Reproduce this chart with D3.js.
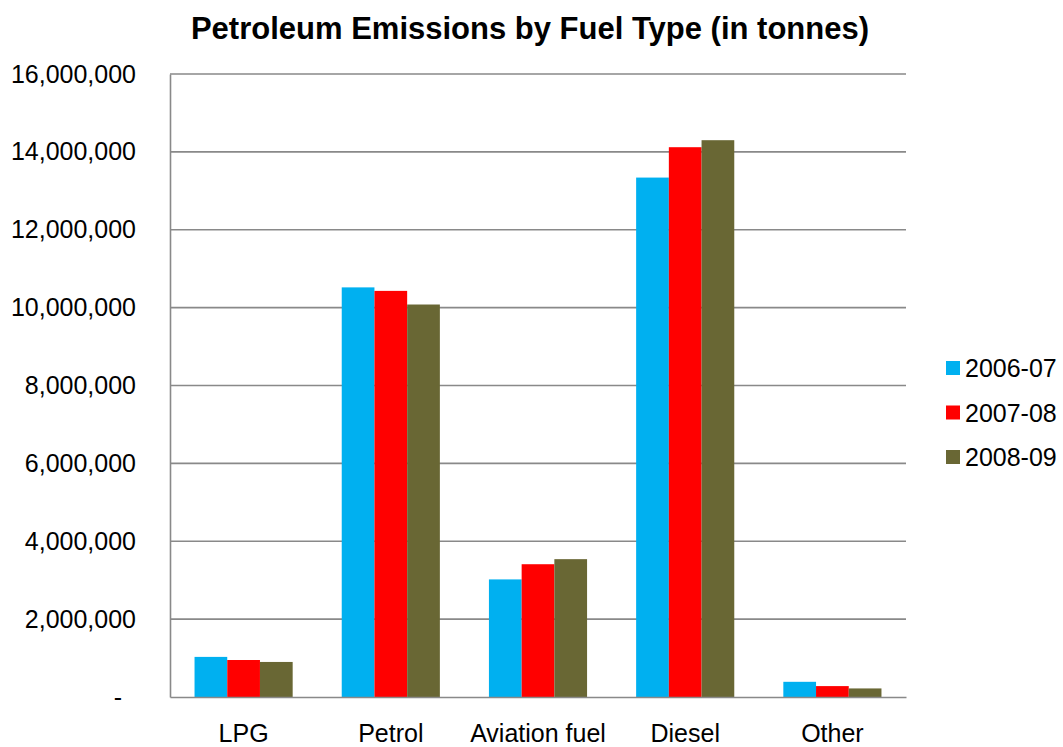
<!DOCTYPE html>
<html>
<head>
<meta charset="utf-8">
<script src="https://cdn.jsdelivr.net/npm/d3@7/dist/d3.min.js"></script>
<style>
  html, body { margin: 0; padding: 0; background: #ffffff; }
  svg { display: block; font-family: Arial, "Liberation Sans", sans-serif; }
</style>
</head>
<body>
<svg id="chart" width="1063" height="747"></svg>
<script>
const categories = ["LPG", "Petrol", "Aviation fuel", "Diesel", "Other"];
const seriesNames = ["2006-07", "2007-08", "2008-09"];
const values2006 = [1030000, 10520000, 3020000, 13340000, 390000];
const values2007 = [950000, 10430000, 3410000, 14120000, 280000];
const values2008 = [900000, 10080000, 3540000, 14300000, 220000];
const seriesColors = ["#00B0F0", "#FF0000", "#696734"];
const yTicks = [0, 2000000, 4000000, 6000000, 8000000, 10000000, 12000000, 14000000, 16000000];
const titleText = "Petroleum Emissions by Fuel Type (in tonnes)";

const seriesValues = [values2006, values2007, values2008];
const svg = d3.select("#chart");
const W = 1063, H = 747;
const plot = { left: 170, right: 906, top: 74, bottom: 697 };
const gridColor = "#898989";
const FONT = "Arial, 'Liberation Sans', sans-serif";

svg.append("rect").attr("width", W).attr("height", H).attr("fill", "#fff");

const x = d3.scaleBand().domain(categories).range([plot.left, plot.right])
  .paddingInner(1/3).paddingOuter(1/6);
const xs = d3.scaleBand().domain(seriesNames).range([0, x.bandwidth()]).padding(0);
const y = d3.scaleLinear().domain([0, 16000000]).range([plot.bottom, plot.top]);

// gridlines
svg.append("g").selectAll("line").data(yTicks.filter(d => d > 0)).join("line")
  .attr("x1", plot.left).attr("x2", plot.right)
  .attr("y1", d => y(d)).attr("y2", d => y(d))
  .attr("stroke", gridColor).attr("stroke-width", 1.6);

// bars
const groups = svg.append("g").selectAll("g").data(categories).join("g")
  .attr("transform", d => `translate(${x(d)},0)`);
groups.selectAll("rect").data((c, i) => seriesNames.map((s, j) => ({ s, j, v: seriesValues[j][i] })))
  .join("rect")
  .attr("x", d => xs(d.s))
  .attr("width", xs.bandwidth())
  .attr("y", d => y(d.v))
  .attr("height", d => y(0) - y(d.v))
  .attr("fill", d => seriesColors[d.j]);

// y axis
const fmt = d3.format(",");
const yAxis = d3.axisLeft(y).tickValues(yTicks).tickSize(0).tickPadding(34)
  .tickFormat(d => d === 0 ? "-" : fmt(d));
const gy = svg.append("g").attr("transform", `translate(${plot.left},0)`).call(yAxis);
gy.select(".domain").attr("stroke", gridColor).attr("stroke-width", 1.6);
gy.selectAll("text").attr("font-size", 25).attr("fill", "#000").attr("font-family", FONT);
gy.selectAll(".tick").filter(d => d === 0).select("text").attr("dx", -14);

// x axis
const xAxis = d3.axisBottom(x).tickSize(0).tickPadding(27);
const gx = svg.append("g").attr("transform", `translate(0,${plot.bottom})`).call(xAxis);
gx.select(".domain").attr("stroke", gridColor).attr("stroke-width", 1.6);
gx.selectAll("text").attr("font-size", 25).attr("fill", "#000").attr("font-family", FONT);

// title
svg.append("text").attr("x", 530).attr("y", 39).attr("text-anchor", "middle")
  .attr("font-size", 31).attr("font-weight", "bold").attr("fill", "#000")
  .attr("font-family", FONT)
  .text(titleText);

// legend
const legendY = d3.scalePoint().domain(seriesNames).range([368, 457]);
const lg = svg.append("g").selectAll("g").data(seriesNames).join("g")
  .attr("transform", d => `translate(946,${legendY(d)})`);
lg.append("rect").attr("x", 0).attr("y", -7).attr("width", 14).attr("height", 14)
  .attr("fill", (d, i) => seriesColors[i]);
lg.append("text").attr("x", 19).attr("y", 9).attr("font-size", 25).attr("fill", "#000")
  .attr("font-family", FONT)
  .text(d => d);
</script>
</body>
</html>
